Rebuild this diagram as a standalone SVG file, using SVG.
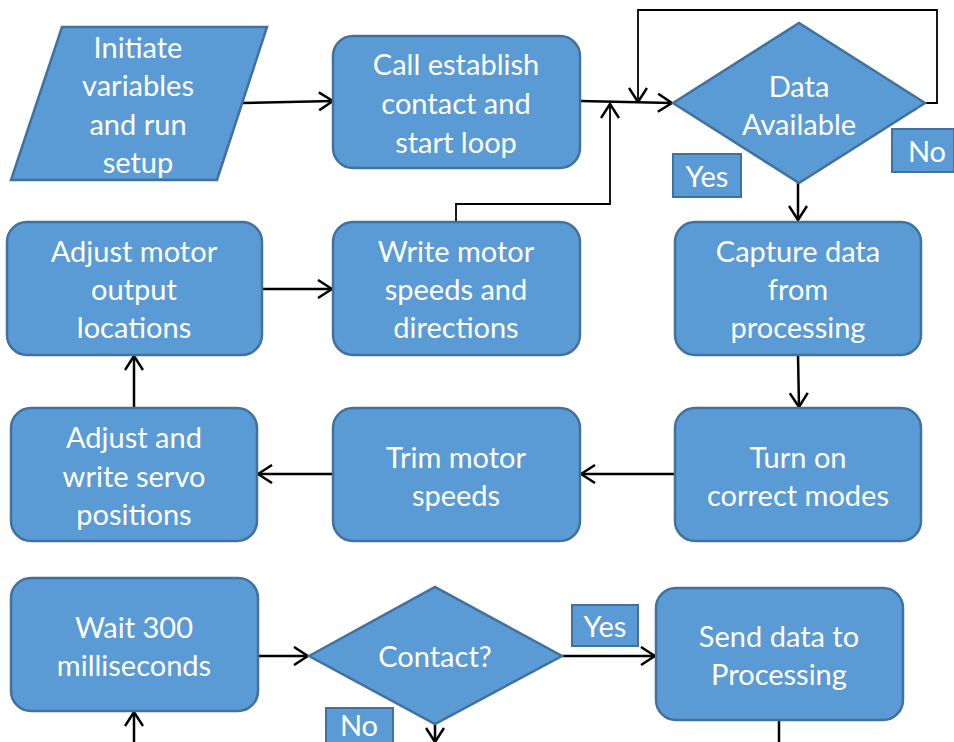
<svg xmlns="http://www.w3.org/2000/svg" width="954" height="742" viewBox="0 0 954 742">
<style>
.n{fill:#5B9BD5;stroke:#41719C;stroke-width:2.5}
.l{fill:#5B9BD5;stroke:#41719C;stroke-width:2}
.t{fill:#fff;font-family:Lato,"Open Sans",sans-serif;font-size:29px;text-anchor:middle;dominant-baseline:central}
.c{fill:none;stroke:#000;stroke-width:2.5}
.c1{fill:none;stroke:#000;stroke-width:1.8}
</style>
<defs>
<marker id="a" viewBox="0 0 16 20" refX="15" refY="10" markerWidth="16" markerHeight="20" markerUnits="userSpaceOnUse" orient="auto">
<path d="M1,1 L15,10 L1,19" fill="none" stroke="#000" stroke-width="2.5"/>
</marker>
</defs>
<g id="connectors">
<line class="c" x1="242" y1="103" x2="333" y2="101" marker-end="url(#a)"/>
<line class="c" x1="580" y1="101" x2="672" y2="103" marker-end="url(#a)"/>
<polyline class="c1" points="925,103 937,103 937,10 638,10 638,102" marker-end="url(#a)"/>
<polyline class="c1" points="456,222 456,204 610,204 610,104" marker-end="url(#a)"/>
<line class="c" x1="798" y1="183" x2="798" y2="220" marker-end="url(#a)"/>
<line class="c" x1="798" y1="355" x2="799" y2="407" marker-end="url(#a)"/>
<line class="c" x1="675" y1="474" x2="581" y2="474" marker-end="url(#a)"/>
<line class="c" x1="333" y1="474" x2="258" y2="474" marker-end="url(#a)"/>
<line class="c" x1="134" y1="408" x2="134" y2="356" marker-end="url(#a)"/>
<line class="c" x1="262" y1="289" x2="332" y2="289" marker-end="url(#a)"/>
<line class="c" x1="258" y1="656" x2="308" y2="656" marker-end="url(#a)"/>
<line class="c" x1="562" y1="656" x2="655" y2="656" marker-end="url(#a)"/>
<line class="c" x1="435" y1="724" x2="435" y2="742" marker-end="url(#a)"/>
<line class="c" x1="779" y1="720" x2="779" y2="742"/>
<line class="c" x1="134" y1="742" x2="134" y2="712" marker-end="url(#a)"/>
</g>
<g id="n1"><polygon class="n" points="62,27 267,27 217,180 11,180"/>
<text class="t" x="138" y="46">Initiate</text><text class="t" x="138" y="84">variables</text><text class="t" x="138" y="123">and run</text><text class="t" x="138" y="161">setup</text></g>
<g id="n2"><rect class="n" x="333" y="36" width="247" height="132" rx="20"/>
<text class="t" x="456" y="63">Call establish</text><text class="t" x="456" y="102">contact and</text><text class="t" x="456" y="141">start loop</text></g>
<g id="n3"><polygon class="n" points="673,103 799,23 925,103 799,183"/>
<text class="t" x="799" y="85">Data</text><text class="t" x="799" y="123">Available</text></g>
<g id="lyes1"><rect class="l" x="673" y="154" width="68" height="43"/><text class="t" x="707" y="175">Yes</text></g>
<g id="lno1"><rect class="l" x="892" y="129" width="62" height="43"/><text class="t" x="927" y="150">No</text></g>
<g id="n4"><rect class="n" x="675" y="222" width="246" height="133" rx="20"/>
<text class="t" x="798" y="250">Capture data</text><text class="t" x="798" y="288">from</text><text class="t" x="798" y="326">processing</text></g>
<g id="n5"><rect class="n" x="675" y="408" width="246" height="133" rx="20"/>
<text class="t" x="798" y="456">Turn on</text><text class="t" x="798" y="494">correct modes</text></g>
<g id="n6"><rect class="n" x="333" y="408" width="247" height="133" rx="20"/>
<text class="t" x="456" y="456">Trim motor</text><text class="t" x="456" y="494">speeds</text></g>
<g id="n7"><rect class="n" x="11" y="408" width="246" height="133" rx="20"/>
<text class="t" x="134" y="436">Adjust and</text><text class="t" x="134" y="475">write servo</text><text class="t" x="134" y="513">positions</text></g>
<g id="n8"><rect class="n" x="7" y="222" width="255" height="133" rx="20"/>
<text class="t" x="134" y="250">Adjust motor</text><text class="t" x="134" y="288">output</text><text class="t" x="134" y="326">locations</text></g>
<g id="n9"><rect class="n" x="333" y="222" width="247" height="133" rx="20"/>
<text class="t" x="456" y="250">Write motor</text><text class="t" x="456" y="288">speeds and</text><text class="t" x="456" y="326">directions</text></g>
<g id="n10"><rect class="n" x="11" y="578" width="247" height="133" rx="20"/>
<text class="t" x="134" y="626">Wait 300</text><text class="t" x="134" y="664">milliseconds</text></g>
<g id="n11"><polygon class="n" points="309,656 435,587 562,656 435,724"/>
<text class="t" x="435" y="655">Contact?</text></g>
<g id="lyes2"><rect class="l" x="572" y="605" width="66" height="41"/><text class="t" x="605" y="625">Yes</text></g>
<g id="lno2"><rect class="l" x="326" y="708" width="67" height="36"/><text class="t" x="359" y="724">No</text></g>
<g id="n12"><rect class="n" x="656" y="588" width="247" height="132" rx="20"/>
<text class="t" x="779" y="635">Send data to</text><text class="t" x="779" y="673">Processing</text></g>
</svg>
